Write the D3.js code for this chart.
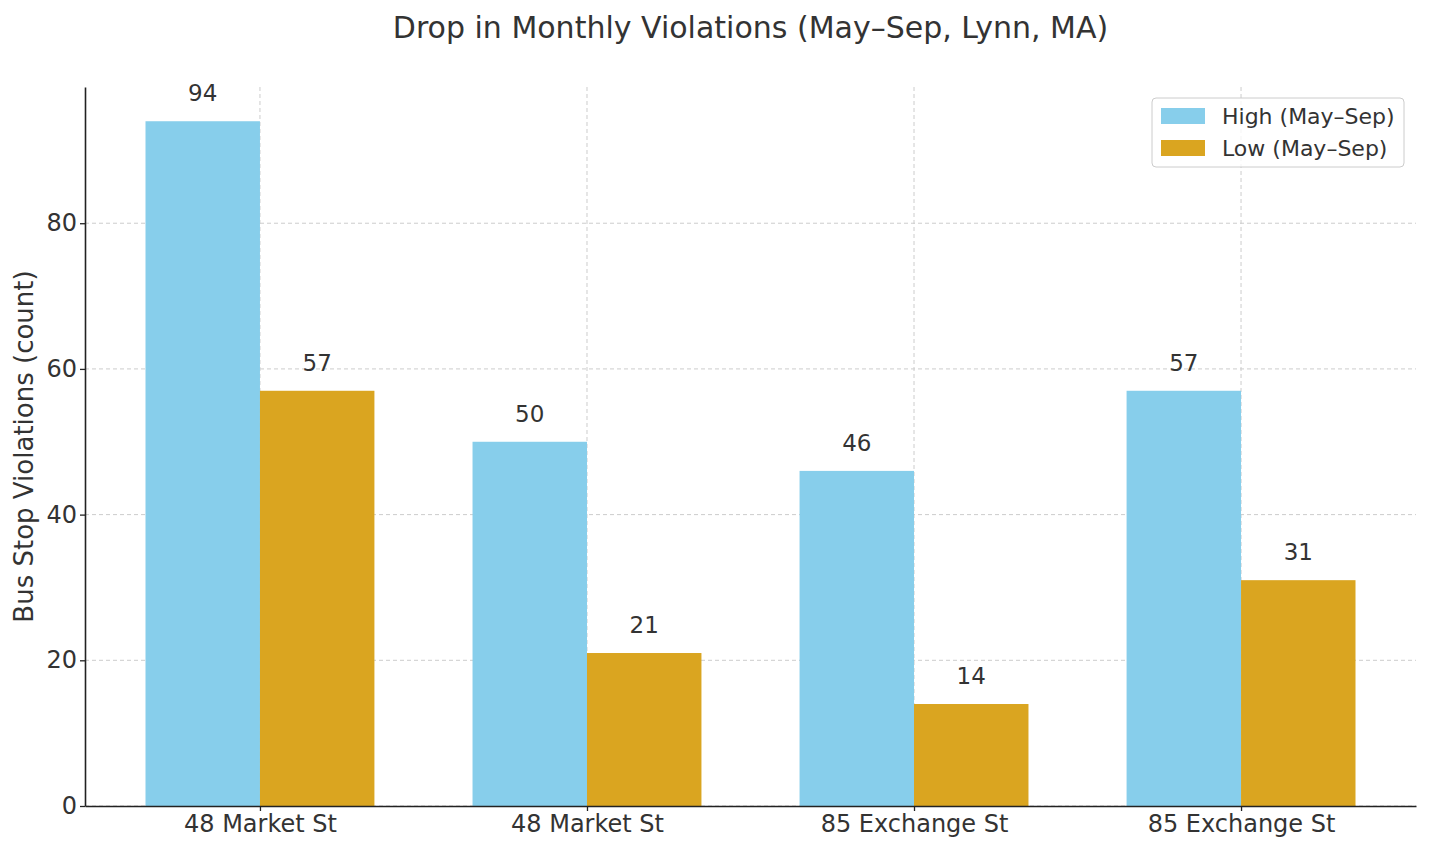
<!DOCTYPE html>
<html>
<head>
<meta charset="utf-8">
<script src="https://cdn.jsdelivr.net/npm/d3@7"></script>
<style>
  body { margin: 0; background: #fff; }
  text { font-family: "DejaVu Sans", sans-serif; fill: #333; }
</style>
</head>
<body>
<div id="chart"></div>
<script>
// data
const locations = ["48 Market St", "48 Market St", "85 Exchange St", "85 Exchange St"];
const highValues = [94, 50, 46, 57];
const lowValues = [57, 21, 14, 31];
const seriesNames = ["High (May–Sep)", "Low (May–Sep)"];
const yTicks = [0, 20, 40, 60, 80];

const W = 1430, H = 855;
const margin = { left: 85, right: 14, top: 87, bottom: 49 };
const colors = ["#87CEEB", "#DAA520"];
const barW = 0.35;

const svg = d3.select("#chart").append("svg")
  .attr("width", W).attr("height", H);

// x in category-index units, padded like matplotlib's 5% margins
const span = (locations.length - 1 + 2 * barW);
const pad = span * 0.05;
const x = d3.scaleLinear()
  .domain([-barW - pad, locations.length - 1 + barW + pad])
  .range([margin.left, W - margin.right]);

const y = d3.scaleLinear()
  .domain([0, d3.max(highValues.concat(lowValues)) * 1.05])
  .range([H - margin.bottom, margin.top]);

// grid
const grid = svg.append("g");
grid.selectAll("line.gy")
  .data(yTicks)
  .join("line")
    .attr("x1", margin.left).attr("x2", W - margin.right)
    .attr("y1", d => y(d)).attr("y2", d => y(d))
    .attr("stroke", "#ccc").attr("stroke-dasharray", "4,3");
grid.selectAll("line.gx")
  .data(locations.map((d, i) => i))
  .join("line")
    .attr("x1", d => x(d)).attr("x2", d => x(d))
    .attr("y1", margin.top).attr("y2", H - margin.bottom)
    .attr("stroke", "#ccc").attr("stroke-dasharray", "4,3");

// bars
const series = [highValues, lowValues];
series.forEach((vals, s) => {
  const offset = s === 0 ? -barW / 2 : barW / 2;
  const g = svg.append("g");
  g.selectAll("rect")
    .data(vals)
    .join("rect")
      .attr("x", (d, i) => x(i + offset - barW / 2))
      .attr("width", x(barW) - x(0))
      .attr("y", d => y(d))
      .attr("height", d => y(0) - y(d))
      .attr("fill", colors[s]);
  g.selectAll("text")
    .data(vals)
    .join("text")
      .attr("x", (d, i) => x(i + offset))
      .attr("y", d => y(d) - 20)
      .attr("text-anchor", "middle")
      .attr("font-size", 23)
      .text(d => d);
});

// axes
const xAxis = d3.axisBottom(x)
  .tickValues(locations.map((d, i) => i))
  .tickFormat(i => locations[i])
  .tickSize(5).tickSizeOuter(0).tickPadding(4);
const xg = svg.append("g")
  .attr("transform", `translate(0,${H - margin.bottom})`)
  .call(xAxis);
xg.select(".domain").attr("stroke", "#222").attr("stroke-width", 1.6);
xg.selectAll(".tick line").attr("stroke", "#222").attr("stroke-width", 1.3);
xg.selectAll(".tick text").attr("font-size", 24).attr("fill", "#222")
  .style("font-family", "DejaVu Sans, sans-serif");

const yAxis = d3.axisLeft(y).tickValues(yTicks).tickSize(5).tickSizeOuter(0).tickPadding(3);
const yg = svg.append("g")
  .attr("transform", `translate(${margin.left},0)`)
  .call(yAxis);
yg.select(".domain").attr("stroke", "#222").attr("stroke-width", 1.6);
yg.selectAll(".tick line").attr("stroke", "#222").attr("stroke-width", 1.3);
yg.selectAll(".tick text").attr("font-size", 24).attr("fill", "#222")
  .style("font-family", "DejaVu Sans, sans-serif");

// titles
svg.append("text")
  .attr("x", (margin.left + W - margin.right) / 2)
  .attr("y", 38)
  .attr("text-anchor", "middle")
  .attr("font-size", 30)
  .text("Drop in Monthly Violations (May–Sep, Lynn, MA)");

svg.append("text")
  .attr("transform", `translate(33,${(margin.top + H - margin.bottom) / 2}) rotate(-90)`)
  .attr("text-anchor", "middle")
  .attr("font-size", 26)
  .text("Bus Stop Violations (count)");

// legend
const lg = svg.append("g").attr("transform", "translate(1152,98)");
lg.append("rect")
  .attr("width", 252).attr("height", 69)
  .attr("rx", 4)
  .attr("fill", "rgba(255,255,255,0.8)")
  .attr("stroke", "#ccc");
seriesNames.forEach((name, i) => {
  lg.append("rect")
    .attr("x", 9).attr("y", 10 + i * 32)
    .attr("width", 44).attr("height", 16)
    .attr("fill", colors[i]);
  lg.append("text")
    .attr("x", 70).attr("y", 26 + i * 32)
    .attr("font-size", 22)
    .text(name);
});
</script>
</body>
</html>
